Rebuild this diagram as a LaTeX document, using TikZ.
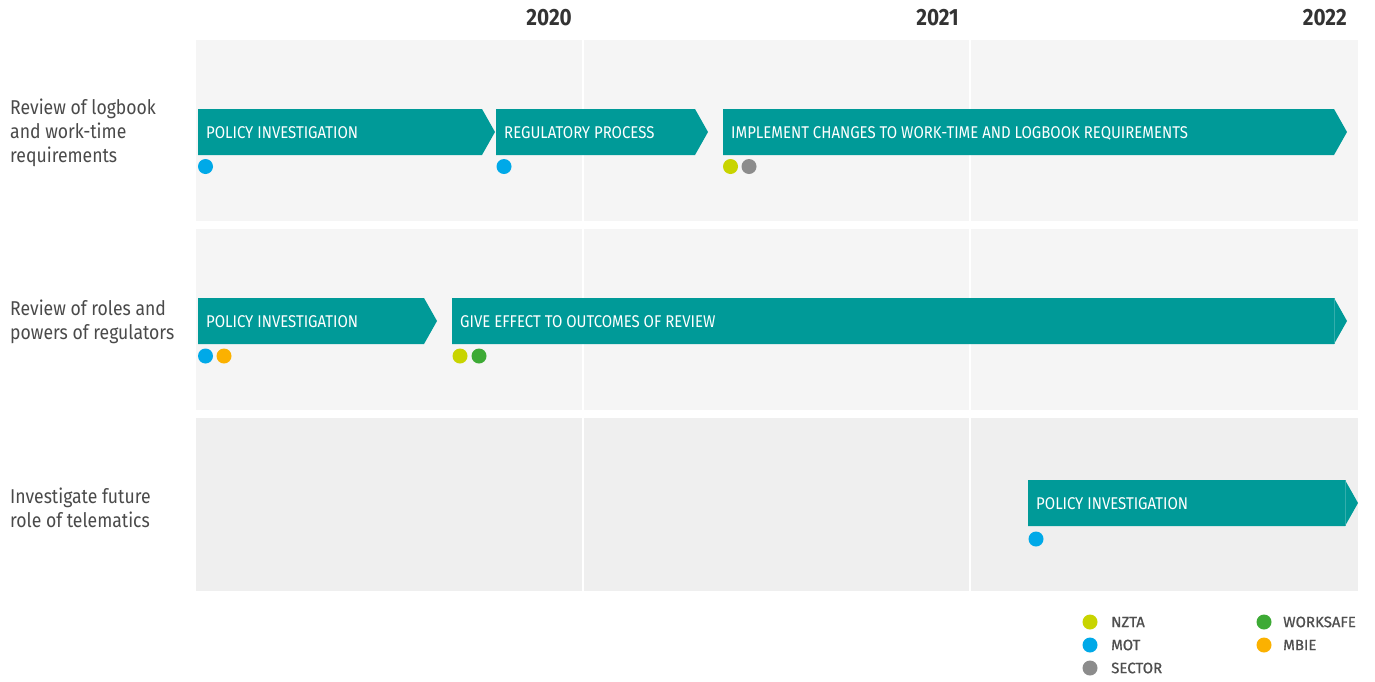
\documentclass[tikz,border=0pt]{standalone}
\usepackage{fontspec}
\setmainfont[FakeStretch=0.88]{Fira Sans}
\newfontfamily\legfont[FakeBold=0.8]{Fira Sans}
\definecolor{teal}{HTML}{009A98}
\definecolor{tealline}{HTML}{33AEAC}
\definecolor{rowa}{HTML}{F5F5F5}
\definecolor{rowb}{HTML}{EFEFEF}
\definecolor{labelgray}{HTML}{4A4A4A}
\definecolor{yeargray}{HTML}{333333}
\definecolor{leggray}{HTML}{4F4F4F}
\definecolor{cnzta}{HTML}{C8D400}
\definecolor{cmot}{HTML}{00A9E8}
\definecolor{csector}{HTML}{8C8C8C}
\definecolor{cworksafe}{HTML}{3DAA35}
\definecolor{cmbie}{HTML}{FBB100}
\newcommand\tlbar[5]{%
  \fill[teal] (#2,#4) -- (#3,#4) -- ({#3+13},{#4+23}) -- (#3,{#4+46}) -- (#2,{#4+46}) -- cycle;
  \node[bartext] (#1) at ({#2+8},{#4+24}) {#5};}
\begin{document}
\begin{tikzpicture}[x=1pt,y=-1pt,
  lbl/.style={anchor=west, font=\fontsize{20}{24}\selectfont, text=labelgray, align=left, inner sep=0},
  bartext/.style={anchor=west, text=white, font=\fontsize{17}{17}\selectfont, inner sep=0},
  year/.style={anchor=east, font=\bfseries\fontsize{23.5}{24}\selectfont, text=yeargray, inner sep=0},
  dot/.style={circle, inner sep=0, minimum size=15pt},
  legtext/.style={anchor=west, text=leggray, font=\legfont\fontsize{15}{15}\selectfont, inner sep=0}]
\useasboundingbox (0,0) rectangle (1375,681);
\fill[white] (0,0) rectangle (1375,681);
% rows
\fill[rowa] (196,40) rectangle (1358,221);
\fill[rowa] (196,229) rectangle (1358,410);
\fill[rowb] (196,418) rectangle (1358,591);
\draw[white, line width=1.2pt] (583,40) -- (583,591);
\draw[white, line width=1.2pt] (970,40) -- (970,591);
% years
\node[year] (y2020) at (572,18) {2020};
\node[year] (y2021) at (959,18) {2021};
\node[year] (y2022) at (1347,18) {2022};
% row labels
\node[lbl] (r1) at (10,133) {Review of logbook\\and work-time\\requirements};
\node[lbl] (r2) at (10,322) {Review of roles and\\powers of regulators};
\node[lbl] (r3) at (10,508) {Investigate future\\role of telematics};
% bars row 1
\tlbar{b11}{198}{482}{109}{POLICY INVESTIGATION}
\tlbar{b12}{496}{695}{109}{REGULATORY PROCESS}
\tlbar{b13}{723}{1334}{109}{IMPLEMENT CHANGES TO WORK-TIME AND LOGBOOK REQUIREMENTS}
% bars row 2
\tlbar{b21}{198}{424}{298}{POLICY INVESTIGATION}
\tlbar{b22}{452}{1334}{298}{GIVE EFFECT TO OUTCOMES OF REVIEW}
\draw[tealline, line width=0.6pt] (1334,298) -- (1334,344);
% bar row 3
\tlbar{b31}{1028}{1345}{480}{POLICY INVESTIGATION}
\draw[tealline, line width=0.6pt] (1345,480) -- (1345,526);
% dots
\node[dot, fill=cmot] (d11) at (205.5,166.5) {};
\node[dot, fill=cmot] (d12) at (504,166.5) {};
\node[dot, fill=cnzta] (d13) at (730.5,166.5) {};
\node[dot, fill=csector] (d14) at (749,166.5) {};
\node[dot, fill=cmot] (d21) at (205.5,356) {};
\node[dot, fill=cmbie] (d22) at (224,356) {};
\node[dot, fill=cnzta] (d23) at (460,356) {};
\node[dot, fill=cworksafe] (d24) at (479,356) {};
\node[dot, fill=cmot] (d31) at (1036,539) {};
% legend
\node[dot, fill=cnzta] (l1) at (1090,622) {};
\node[legtext] (t1) at (1111,622) {NZTA};
\node[dot, fill=cmot] (l2) at (1090,645) {};
\node[legtext] (t2) at (1111,645) {MOT};
\node[dot, fill=csector] (l3) at (1090,668) {};
\node[legtext] (t3) at (1111,668) {SECTOR};
\node[dot, fill=cworksafe] (l4) at (1264,622) {};
\node[legtext] (t4) at (1283,622) {WORKSAFE};
\node[dot, fill=cmbie] (l5) at (1264,645) {};
\node[legtext] (t5) at (1283,645) {MBIE};
\end{tikzpicture}
\end{document}
